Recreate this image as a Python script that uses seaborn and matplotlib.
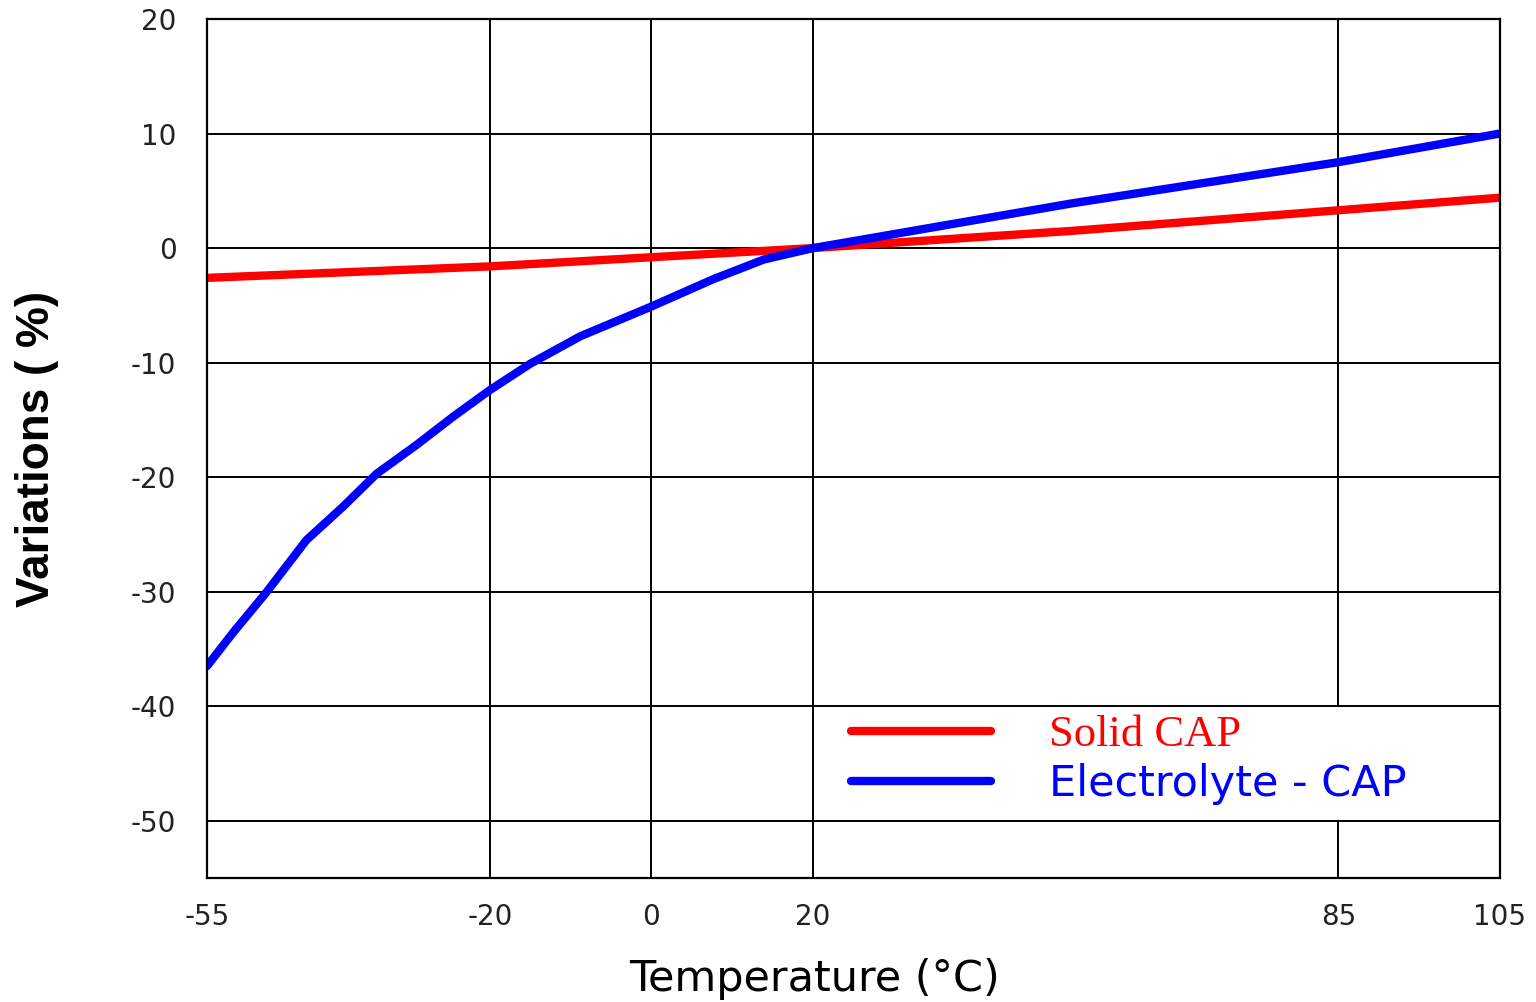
import numpy as np
import pandas as pd
import seaborn as sns
import matplotlib.pyplot as plt
from matplotlib.patches import Rectangle

# values
solid_temp = [-55, -20, 0, 20, 52, 85, 105]
solid_var = [-2.6, -1.6, -0.8, 0.0, 1.5, 3.3, 4.4]

electro_temp = [-55, -51.8, -47.7, -42.7, -38.2, -34, -29.1, -24.5, -20, -15,
                -8.8, 0, 7.7, 13.9, 20, 52, 85, 105]
electro_var = [-36.5, -33.6, -30.1, -25.5, -22.6, -19.7, -17.2, -14.7, -12.4, -10.1,
               -7.7, -5.1, -2.7, -1.0, 0.0, 3.9, 7.5, 10.0]

series_names = ["Solid CAP", "Electrolyte - CAP"]
series_colors = {"Solid CAP": "#ff0000", "Electrolyte - CAP": "#0000ff"}

x_ticks = [-55, -20, 0, 20, 85, 105]
y_ticks = [20, 10, 0, -10, -20, -30, -40, -50]


def build_frame():
    solid = pd.DataFrame({"temp": solid_temp, "var": solid_var, "series": series_names[0]})
    electro = pd.DataFrame({"temp": electro_temp, "var": electro_var, "series": series_names[1]})
    return pd.concat([solid, electro], ignore_index=True)


def main():
    sns.set_style("white")
    plt.rcParams['font.family'] = ['DejaVu Sans']

    df = build_frame()

    fig = plt.figure(figsize=(15.36, 10.02), dpi=100)
    ax = fig.add_axes([207 / 1536, 1 - 878 / 1002, 1293 / 1536, 859 / 1002])

    sns.lineplot(data=df, x="temp", y="var", hue="series", hue_order=series_names,
                 palette=series_colors, linewidth=6, sort=False, ax=ax,
                 solid_capstyle="round", zorder=3)

    ax.set_xlim(-55, 105)
    ax.set_ylim(-55, 20)
    ax.set_xticks(x_ticks)
    ax.set_yticks(y_ticks)
    ax.set_xticklabels([str(t) for t in x_ticks])
    ax.set_yticklabels([str(t) for t in y_ticks])
    ax.grid(True, color="black", linewidth=1.4)
    ax.set_axisbelow(True)
    for sp in ax.spines.values():
        sp.set_color("black")
        sp.set_linewidth(1.6)
        sp.set_zorder(4)

    ax.tick_params(axis="both", length=0, labelsize=20, labelcolor="#222222")
    ax.tick_params(axis="y", pad=22)
    ax.tick_params(axis="x", pad=18)

    ax.set_xlabel("Temperature (°C)", fontsize=31, color="black", va="center")
    ax.xaxis.set_label_coords(0.47, -0.118)
    ax.set_ylabel("Variations ( %)", fontsize=33, fontweight="bold",
                  family="Liberation Sans", color="black", va="center")
    ax.yaxis.set_label_coords(-0.1315, 0.5)

    # white legend area between the -40 and -50 grid lines (hides the 85 line there)
    box_x0 = (815 - 207) / 1293
    inset = 1.2 / 859
    ax.add_patch(Rectangle((box_x0, 5 / 75 + inset), 1 - box_x0, 10 / 75 - 2 * inset,
                           transform=ax.transAxes, facecolor="white", edgecolor="none",
                           zorder=2))

    handles, labels = ax.get_legend_handles_labels()
    leg = ax.legend(handles, labels, loc="center left",
                    bbox_to_anchor=((851 - 207) / 1293, (878 - 760) / 859),
                    frameon=False, fontsize=31, handlelength=3.25, handletextpad=1.35,
                    borderaxespad=0, labelspacing=0.2, borderpad=0)
    leg.set_zorder(5)
    for line in leg.get_lines():
        line.set_linewidth(6)
        line.set_solid_capstyle("round")
    texts = leg.get_texts()
    texts[0].set_color("#ff0000")
    texts[0].set_fontfamily("Liberation Serif")
    texts[0].set_fontsize(32)
    texts[1].set_color("#0000ff")

    fig.savefig("out.png", dpi=100)


if __name__ == '__main__':
    main()
